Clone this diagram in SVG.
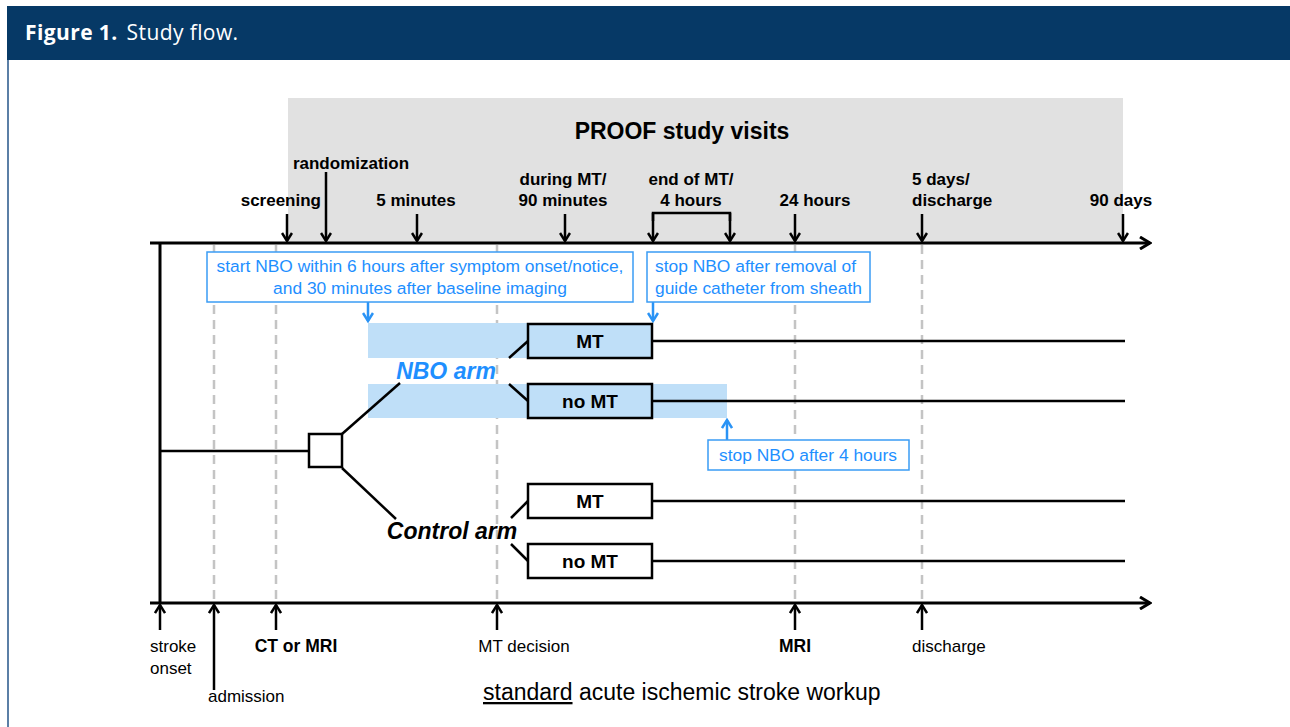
<svg xmlns="http://www.w3.org/2000/svg" width="1290" height="727" viewBox="0 0 1290 727">
<style>
.lbl{font-family:"Liberation Sans",Arial,sans-serif;font-size:17px;font-weight:bold;fill:#000}
.reg{font-family:"Liberation Sans",Arial,sans-serif;font-size:17px;fill:#000}
.blue{font-family:"Liberation Sans",Arial,sans-serif;font-size:17.4px;fill:#1e8fff}
.box{fill:#fff;stroke:#000;stroke-width:2.5}
.boxb{fill:#bfdff8;stroke:#000;stroke-width:2.5}
.bbox{fill:#fff;stroke:#3a9cf5;stroke-width:1.5}
.band{fill:#bfdff8}
.ln{stroke:#000;stroke-width:2.5;fill:none}
.dash{stroke:#c4c4c4;stroke-width:2.5;stroke-dasharray:9,6;fill:none}
.arr{stroke:#000;stroke-width:2.5;fill:none;marker-end:url(#ah)}
.barr{stroke:#2a93f5;stroke-width:2.5;fill:none;marker-end:url(#bh)}
.boxt{font-family:"Liberation Sans",Arial,sans-serif;font-size:19px;font-weight:bold;fill:#000;text-anchor:middle}
.arm{font-family:"Liberation Sans",Arial,sans-serif;font-size:23px;font-weight:bold;font-style:italic;text-anchor:middle}
</style>
<defs>
<marker id="ah" viewBox="0 0 12 12" refX="10" refY="6" markerWidth="12" markerHeight="12" markerUnits="userSpaceOnUse" orient="auto">
<path d="M2,1 L10,6 L2,11" fill="none" stroke="#000" stroke-width="2.5"/>
</marker>
<marker id="bh" viewBox="0 0 12 12" refX="10" refY="6" markerWidth="12" markerHeight="12" markerUnits="userSpaceOnUse" orient="auto">
<path d="M2,1 L10,6 L2,11" fill="none" stroke="#2a93f5" stroke-width="2.5"/>
</marker>
<marker id="big" viewBox="0 0 14 14" refX="12" refY="7" markerWidth="14" markerHeight="14" markerUnits="userSpaceOnUse" orient="auto">
<path d="M2,1 L12,7 L2,13" fill="none" stroke="#000" stroke-width="3"/>
</marker>
</defs>
<rect x="0" y="0" width="1290" height="727" fill="#fff"/>
<g id="header">
<rect x="7" y="6" width="1283" height="54" fill="#063966"/>
<line x1="8" y1="60" x2="8" y2="727" stroke="#5b7fa6" stroke-width="2"/>
<text x="25" y="40" font-family="'Open Sans',Lato,sans-serif" font-size="21" fill="#fff" letter-spacing="0.4"><tspan font-weight="bold">Figure 1.</tspan><tspan dx="9">Study flow.</tspan></text>
</g>
<g id="study-visits">
<rect x="288" y="98" width="835" height="145" fill="#e1e1e1"/>
<text x="682" y="139" class="lbl" text-anchor="middle" style="font-size:23px">PROOF study visits</text>
</g>
<g id="dashed">
<line class="dash" x1="214" y1="245" x2="214" y2="601"/>
<line class="dash" x1="276" y1="245" x2="276" y2="601"/>
<line class="dash" x1="497" y1="245" x2="497" y2="601"/>
<line class="dash" x1="795" y1="245" x2="795" y2="601"/>
<line class="dash" x1="922" y1="245" x2="922" y2="601"/>
</g>
<g id="bands">
<rect class="band" x="368" y="323" width="284" height="35"/>
<rect class="band" x="368" y="384" width="359" height="34"/>
</g>
<g id="connectors">
<line x1="150" y1="243" x2="1150" y2="243" stroke="#000" stroke-width="3" marker-end="url(#big)"/>
<line x1="150" y1="603" x2="1150" y2="603" stroke="#000" stroke-width="3" marker-end="url(#big)"/>
<line x1="160" y1="243" x2="160" y2="603" stroke="#000" stroke-width="3"/>
<line class="arr" x1="287" y1="214" x2="287" y2="241"/>
<line class="arr" x1="326" y1="172" x2="326" y2="241"/>
<line class="arr" x1="417" y1="214" x2="417" y2="241"/>
<line class="arr" x1="565" y1="214" x2="565" y2="241"/>
<polyline class="ln" points="653,221 653,213 730,213 730,221"/>
<line class="arr" x1="653" y1="213" x2="653" y2="241"/>
<line class="arr" x1="730" y1="213" x2="730" y2="241"/>
<line class="arr" x1="795" y1="214" x2="795" y2="241"/>
<line class="arr" x1="922" y1="214" x2="922" y2="241"/>
<line class="arr" x1="1123" y1="214" x2="1123" y2="241"/>
<line class="arr" x1="160" y1="630" x2="160" y2="605"/>
<line class="arr" x1="214" y1="690" x2="214" y2="605"/>
<line class="arr" x1="276" y1="630" x2="276" y2="605"/>
<line class="arr" x1="497" y1="630" x2="497" y2="605"/>
<line class="arr" x1="795" y1="630" x2="795" y2="605"/>
<line class="arr" x1="922" y1="630" x2="922" y2="605"/>
<line class="barr" x1="368" y1="302" x2="368" y2="321"/>
<line class="barr" x1="653" y1="302" x2="653" y2="321"/>
<line class="barr" x1="727" y1="440" x2="727" y2="420"/>
<line class="ln" x1="160" y1="451" x2="309" y2="451"/>
<line class="ln" x1="342" y1="434" x2="400" y2="383"/>
<line class="ln" x1="509" y1="358" x2="528" y2="341"/>
<line class="ln" x1="509" y1="384" x2="528" y2="401"/>
<line class="ln" x1="342" y1="468" x2="396" y2="519"/>
<line class="ln" x1="511" y1="518" x2="528" y2="501"/>
<line class="ln" x1="511" y1="544" x2="528" y2="561"/>
<line class="ln" x1="652" y1="341" x2="1125" y2="341"/>
<line class="ln" x1="652" y1="401" x2="1125" y2="401"/>
<line class="ln" x1="652" y1="501" x2="1125" y2="501"/>
<line class="ln" x1="652" y1="561" x2="1125" y2="561"/>
</g>
<g id="top-labels">
<text class="lbl" x="351" y="169" text-anchor="middle">randomization</text>
<text class="lbl" x="321" y="206" text-anchor="end">screening</text>
<text class="lbl" x="416" y="206" text-anchor="middle">5 minutes</text>
<text class="lbl" x="563" y="185" text-anchor="middle">during MT/</text>
<text class="lbl" x="563" y="206" text-anchor="middle">90 minutes</text>
<text class="lbl" x="691" y="185" text-anchor="middle">end of MT/</text>
<text class="lbl" x="691" y="206" text-anchor="middle">4 hours</text>
<text class="lbl" x="815" y="206" text-anchor="middle">24 hours</text>
<text class="lbl" x="912" y="185">5 days/</text>
<text class="lbl" x="912" y="206">discharge</text>
<text class="lbl" x="1121" y="206" text-anchor="middle">90 days</text>
</g>
<g id="note-start">
<rect class="bbox" x="207" y="252" width="426" height="50"/>
<text class="blue" x="420" y="272" text-anchor="middle">start NBO within 6 hours after symptom onset/notice,</text>
<text class="blue" x="420" y="294" text-anchor="middle">and 30 minutes after baseline imaging</text>
</g>
<g id="note-stop-mt">
<rect class="bbox" x="647" y="252" width="223" height="50"/>
<text class="blue" x="655" y="272">stop NBO after removal of</text>
<text class="blue" x="655" y="294">guide catheter from sheath</text>
</g>
<g id="note-stop-4h">
<rect class="bbox" x="708" y="440" width="201" height="30"/>
<text class="blue" x="808" y="461" text-anchor="middle">stop NBO after 4 hours</text>
</g>
<g id="randomization-node">
<rect class="box" x="309" y="434" width="33" height="33"/>
</g>
<g id="nbo-arm">
<text class="arm" x="446" y="379" fill="#1e8fff">NBO arm</text>
</g>
<g id="control-arm">
<text class="arm" x="452" y="539" fill="#000">Control arm</text>
</g>
<g id="nbo-mt">
<rect class="boxb" x="528" y="324" width="124" height="34"/>
<text class="boxt" x="590" y="348">MT</text>
</g>
<g id="nbo-nomt">
<rect class="boxb" x="528" y="384" width="124" height="34"/>
<text class="boxt" x="590" y="408">no MT</text>
</g>
<g id="ctrl-mt">
<rect class="box" x="528" y="484" width="124" height="34"/>
<text class="boxt" x="590" y="508">MT</text>
</g>
<g id="ctrl-nomt">
<rect class="box" x="528" y="544" width="124" height="34"/>
<text class="boxt" x="590" y="568">no MT</text>
</g>
<g id="bottom-labels">
<text class="reg" x="150" y="652">stroke</text>
<text class="reg" x="150" y="674">onset</text>
<text class="reg" x="208" y="702">admission</text>
<text class="lbl" x="296" y="652" text-anchor="middle" style="font-size:17.5px">CT or MRI</text>
<text class="reg" x="524" y="652" text-anchor="middle">MT decision</text>
<text class="lbl" x="795" y="652" text-anchor="middle" style="font-size:17.5px">MRI</text>
<text class="reg" x="912" y="652">discharge</text>
<text class="reg" x="483" y="700" style="font-size:23px"><tspan text-decoration="underline">standard</tspan> acute ischemic stroke workup</text>
</g>
</svg>
